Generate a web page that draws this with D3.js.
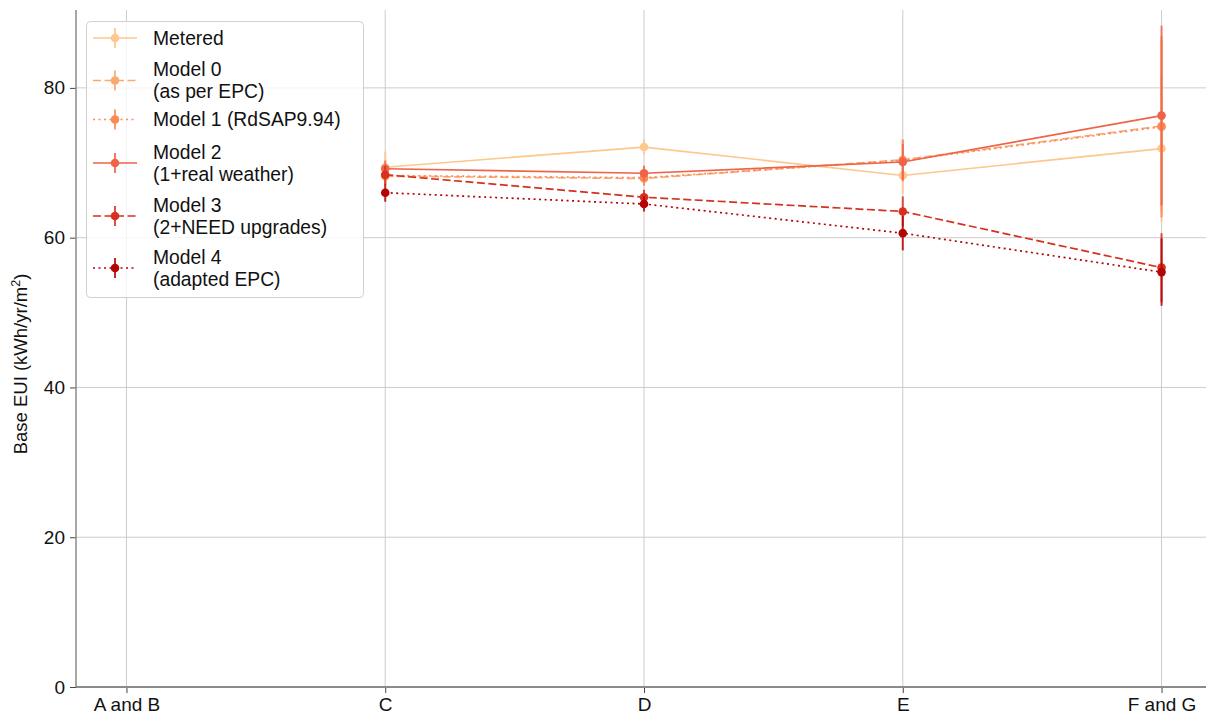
<!DOCTYPE html>
<html>
<head>
<meta charset="utf-8">
<script src="https://cdn.jsdelivr.net/npm/d3@7"></script>
<style>
  body { margin: 0; background: #fff; }
  svg { display: block; font-family: "Liberation Sans", Arial, sans-serif; }
</style>
</head>
<body>
<svg id="chart" width="1206" height="716"></svg>
<script>
// EPC band groups on the x axis
const categories = ["A and B", "C", "D", "E", "F and G"];
const yTicks = [0, 20, 40, 60, 80];

// Mean base EUI per band (kWh/yr/m²); null = no dwellings in that band
const metered   = [null, 69.4, 72.1, 68.3, 71.9];
const model0    = [null, 68.2, 67.9, 70.4, 74.9];
const model1    = [null, 68.3, 68.0, 70.3, 74.8];
const model2    = [null, 69.2, 68.6, 70.1, 76.3];
const model3    = [null, 68.4, 65.4, 63.5, 56.0];
const model4    = [null, 66.0, 64.5, 60.6, 55.4];

// Half-widths of the error bars
const meteredErr = [null, 2.1, 1.0, 2.4, 9.8];
const model0Err  = [null, 1.2, 1.0, 2.7, 11.5];
const model1Err  = [null, 1.2, 1.0, 2.8, 12.1];
const model2Err  = [null, 1.1, 1.0, 2.4, 12.0];
const model3Err  = [null, 1.2, 1.0, 2.0, 4.6];
const model4Err  = [null, 1.2, 1.0, 2.3, 4.5];

const seriesNames = ["Metered", "Model 0\n(as per EPC)", "Model 1 (RdSAP9.94)",
  "Model 2\n(1+real weather)", "Model 3\n(2+NEED upgrades)", "Model 4\n(adapted EPC)"];
const seriesColors = ["#fdc78e", "#fca970", "#fb8a58", "#ee6448", "#d6301f", "#b40404"];
const seriesDash = ["none", "8,3.5", "2,3.5", "none", "8,3.5", "2,3.5"];

const series = [
  { values: metered, err: meteredErr },
  { values: model0, err: model0Err },
  { values: model1, err: model1Err },
  { values: model2, err: model2Err },
  { values: model3, err: model3Err },
  { values: model4, err: model4Err }
].map((s, i) => ({ ...s, name: seriesNames[i], color: seriesColors[i], dash: seriesDash[i] }));

const svg = d3.select("#chart");
const plotLeft = 76, plotRight = 1212, plotTop = 10, plotBottom = 687;

const x = d3.scalePoint().domain(categories).range([plotLeft, plotRight]).padding(0.195);
const y = d3.scaleLinear().domain([0, 90.4]).range([plotBottom, plotTop]);

// grid
const grid = svg.append("g").attr("stroke", "#cccccc").attr("stroke-width", 1);
grid.selectAll("line.v").data(categories).join("line").attr("class", "v")
  .attr("x1", d => x(d)).attr("x2", d => x(d))
  .attr("y1", plotTop).attr("y2", plotBottom);
grid.selectAll("line.h").data(yTicks.filter(t => t > 0)).join("line").attr("class", "h")
  .attr("x1", plotLeft).attr("x2", 1206)
  .attr("y1", d => y(d)).attr("y2", d => y(d));

// axes
const xAxis = svg.append("g").attr("transform", `translate(0,${plotBottom})`)
  .call(d3.axisBottom(x).tickSize(6).tickPadding(5));
const yAxis = svg.append("g").attr("transform", `translate(${plotLeft},0)`)
  .call(d3.axisLeft(y).tickValues(yTicks).tickSize(6).tickPadding(5));
[xAxis, yAxis].forEach(a => {
  a.select(".domain").remove();
  a.selectAll(".tick line").attr("stroke", "#444").attr("stroke-width", 1);
  a.selectAll(".tick text").attr("fill", "#111").style("font-size", "19px");
});
svg.append("line").attr("x1", plotLeft).attr("x2", plotLeft).attr("y1", plotTop).attr("y2", plotBottom)
  .attr("stroke", "#8a8a8a").attr("stroke-width", 1.5);
svg.append("line").attr("x1", plotLeft).attr("x2", 1206).attr("y1", plotBottom).attr("y2", plotBottom)
  .attr("stroke", "#8a8a8a").attr("stroke-width", 2);

// y label
const yl = svg.append("text")
  .attr("transform", "translate(27,364) rotate(-90)")
  .attr("text-anchor", "middle").attr("fill", "#111").style("font-size", "18.5px");
yl.append("tspan").text("Base EUI (kWh/yr/m");
yl.append("tspan").text("2").attr("baseline-shift", "super").style("font-size", "12.5px");
yl.append("tspan").text(")");

// series
const line = d3.line().defined(d => d.v != null).x(d => x(d.c)).y(d => y(d.v));
series.forEach(s => {
  const pts = categories.map((c, i) => ({ c, v: s.values[i], e: s.err[i] })).filter(d => d.v != null);
  const g = svg.append("g");
  g.append("path").datum(pts).attr("d", line)
    .attr("fill", "none").attr("stroke", s.color).attr("stroke-width", 1.7)
    .attr("stroke-dasharray", s.dash === "none" ? null : s.dash);
  g.selectAll("line.err").data(pts).join("line").attr("class", "err")
    .attr("x1", d => x(d.c)).attr("x2", d => x(d.c))
    .attr("y1", d => y(d.v - d.e)).attr("y2", d => y(d.v + d.e))
    .attr("stroke", s.color).attr("stroke-width", 2).attr("opacity", 0.85);
  g.selectAll("circle").data(pts).join("circle")
    .attr("cx", d => x(d.c)).attr("cy", d => y(d.v)).attr("r", 4.3)
    .attr("fill", s.color);
});

// legend
const leg = svg.append("g");
leg.append("rect").attr("x", 86.5).attr("y", 21.5).attr("width", 277).attr("height", 276)
  .attr("rx", 4).attr("fill", "#fff").attr("fill-opacity", 0.8)
  .attr("stroke", "#d0d0d0").attr("stroke-width", 1);
const handleY = [38, 80.5, 119.5, 163, 216, 268];
series.forEach((s, i) => {
  const hy = handleY[i];
  const lines = s.name.split("\n");
  leg.append("line").attr("x1", 93).attr("x2", 137).attr("y1", hy).attr("y2", hy)
    .attr("stroke", s.color).attr("stroke-width", 1.7)
    .attr("stroke-dasharray", s.dash === "none" ? null : s.dash);
  leg.append("line").attr("x1", 115).attr("x2", 115).attr("y1", hy - 10).attr("y2", hy + 10)
    .attr("stroke", s.color).attr("stroke-width", 2).attr("opacity", 0.85);
  leg.append("circle").attr("cx", 115).attr("cy", hy).attr("r", 4.3).attr("fill", s.color);
  const t = leg.append("text").attr("x", 153).attr("fill", "#111").style("font-size", "19.3px");
  const first = hy - (lines.length - 1) * 11;
  lines.forEach((l, k) => {
    t.append("tspan").attr("x", 153).attr("y", first + k * 22).attr("dy", "0.35em").text(l);
  });
});
</script>
</body>
</html>
